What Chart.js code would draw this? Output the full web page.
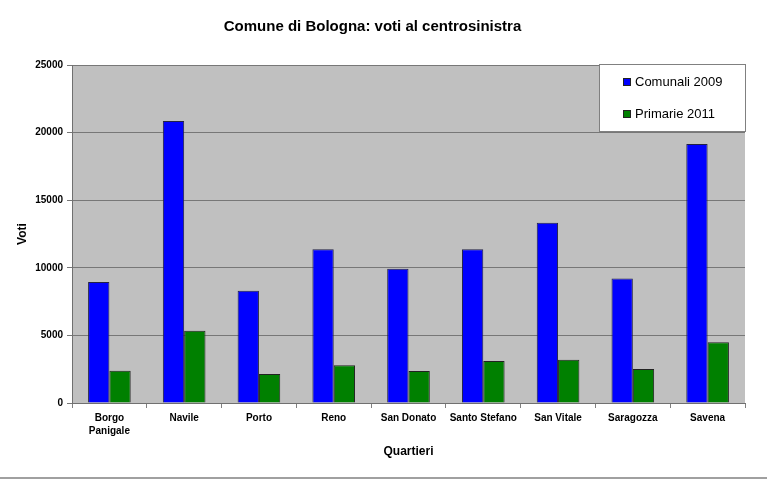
<!DOCTYPE html>
<html>
<head>
<meta charset="utf-8">
<script src="https://cdn.jsdelivr.net/npm/chart.js@4.4.0/dist/chart.umd.min.js"></script>
<style>
  body { margin: 0; background: #fff; }
  #wrap { position: relative; width: 767px; height: 479px; }
  #grafico { display: block; }
  #linea { position: absolute; left: 0; top: 477px; width: 767px; height: 2px; background: #a0a0a0; }
</style>
</head>
<body>
<div id="wrap">
  <canvas id="grafico" width="767" height="479"></canvas>
  <div id="linea"></div>
</div>
<script>
const quartieri = [['Borgo', 'Panigale'], 'Navile', 'Porto', 'Reno', 'San Donato', 'Santo Stefano', 'San Vitale', 'Saragozza', 'Savena'];
const comunali2009 = [8950, 20850, 8300, 11370, 9930, 11370, 13340, 9200, 19160];
const primarie2011 = [2390, 5350, 2150, 2790, 2370, 3100, 3200, 2510, 4490];
const tickVoti = [0, 5000, 10000, 15000, 20000, 25000];

const FONT = '"Liberation Sans", Arial, sans-serif';

// sfondo grigio dell'area del grafico
const sfondoArea = {
    id: 'sfondoArea',
    beforeDraw(chart) {
        const { ctx, chartArea: a } = chart;
        ctx.save();
        ctx.fillStyle = '#c0c0c0';
        ctx.fillRect(a.left, a.top, a.right - a.left, a.bottom - a.top);
        ctx.restore();
    }
};

// legenda in riquadro bianco, in alto a destra
const legendaRiquadro = {
    id: 'legendaRiquadro',
    afterDraw(chart) {
        const { ctx, chartArea: a } = chart;
        const w = 147, h = 68;
        const x = a.right - w + 1, y = a.top - 1;
        ctx.save();
        ctx.fillStyle = '#fff';
        ctx.fillRect(x, y, w, h);
        ctx.strokeStyle = '#808080';
        ctx.lineWidth = 1;
        ctx.strokeRect(x + 0.5, y + 0.5, w - 1, h - 1);
        ctx.font = '13px ' + FONT;
        ctx.textBaseline = 'middle';
        chart.data.datasets.forEach((ds, i) => {
            const cy = y + 18 + i * 32;
            ctx.fillStyle = ds.backgroundColor;
            ctx.fillRect(x + 24, cy - 4, 8, 8);
            ctx.strokeStyle = '#222';
            ctx.strokeRect(x + 24.5, cy - 3.5, 7, 7);
            ctx.fillStyle = '#000';
            ctx.fillText(ds.label, x + 36, cy);
        });
        ctx.restore();
    }
};

new Chart(document.getElementById('grafico'), {
    type: 'bar',
    data: {
        labels: quartieri,
        datasets: [
            {
                label: 'Comunali 2009',
                data: comunali2009,
                backgroundColor: '#0000ff',
                borderColor: '#222244',
                borderWidth: 1,
                categoryPercentage: 0.57,
                barPercentage: 1
            },
            {
                label: 'Primarie 2011',
                data: primarie2011,
                backgroundColor: '#008000',
                borderColor: '#222222',
                borderWidth: 1,
                categoryPercentage: 0.57,
                barPercentage: 1
            }
        ]
    },
    options: {
        responsive: false,
        animation: false,
        layout: { padding: { left: 0, right: 22, top: 0, bottom: 0 } },
        plugins: {
            legend: { display: false },
            tooltip: { enabled: false },
            title: {
                display: true,
                text: 'Comune di Bologna: voti al centrosinistra',
                color: '#000',
                font: { family: FONT, size: 15, weight: 'bold' },
                padding: { top: 18, bottom: 29 }
            }
        },
        scales: {
            x: {
                grid: {
                    display: true,
                    drawOnChartArea: false,
                    drawTicks: true,
                    tickLength: 5,
                    color: '#808080',
                    offset: true
                },
                border: { display: true, color: '#707070', width: 1 },
                ticks: {
                    color: '#000',
                    font: { family: FONT, size: 10, weight: 'bold', lineHeight: 1.25 },
                    padding: 4,
                    maxRotation: 0,
                    autoSkip: false
                },
                title: {
                    display: true,
                    text: 'Quartieri',
                    color: '#000',
                    font: { family: FONT, size: 12, weight: 'bold' },
                    padding: { top: 20, bottom: 20 }
                },
                afterFit(scale) { scale.height = 76; }
            },
            y: {
                min: tickVoti[0],
                max: tickVoti[tickVoti.length - 1],
                ticks: {
                    stepSize: tickVoti[1] - tickVoti[0],
                    color: '#000',
                    font: { family: FONT, size: 10, weight: 'bold' },
                    padding: 4,
                    callback: v => String(v)
                },
                grid: {
                    color: '#777777',
                    lineWidth: 1,
                    tickLength: 5
                },
                border: { display: true, color: '#707070', width: 1 },
                title: {
                    display: true,
                    text: 'Voti',
                    color: '#000',
                    font: { family: FONT, size: 12, weight: 'bold' },
                    padding: { top: 15, bottom: 15 }
                },
                afterFit(scale) { scale.width = 72; }
            }
        }
    },
    plugins: [sfondoArea, legendaRiquadro]
});
</script>
</body>
</html>
